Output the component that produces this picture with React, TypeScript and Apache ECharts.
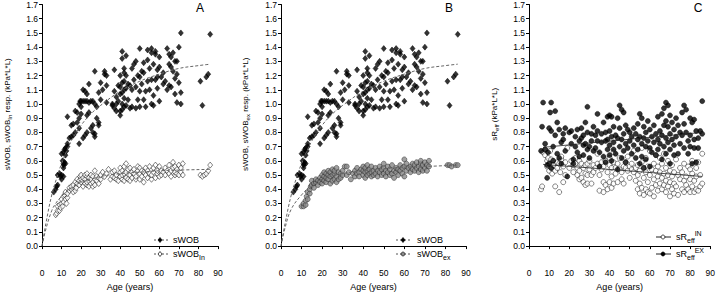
import React, { useEffect, useRef } from "react";
import * as echarts from "echarts";

const xTicks = [0, 10, 20, 30, 40, 50, 60, 70, 80, 90];
const panelLabels = ["A", "B", "C"];

const swobData: number[][] = [
  [6,0.38],[7,0.40],[7.5,0.42],[8,0.43],[8,0.50],[9,0.51],[9.5,0.49],[10,0.47],[10,0.50],[11,0.49],[11,0.57],[11,0.58],[11.5,0.59],[10.5,0.60],[10,0.65],[11,0.66],[11.5,0.68],[12,0.69],[12.5,0.67],[13,0.70],[12,0.64],[13,0.72],[12,0.58],[11,0.55],[13,0.91],[14,0.76],[15,0.77],[15,0.85],[16,0.86],[16,0.78],[17,0.80],[17,0.95],[18,0.94],[18,0.87],[19,0.83],[19,0.90],[19,0.72],[19,1.0],[19.5,1.02],[20,0.98],[20,0.93],[20,1.02],[21,1.02],[21,1.1],[22,1.02],[22,1.09],[22,0.78],[21,0.76],[23,1.07],[23,1.02],[23,0.92],[23,0.80],[24,1.14],[24,0.94],[24,1.01],[25,1.02],[25,0.83],[26,0.80],[26,0.85],[26,1.02],[27,1.23],[27,1.0],[27,0.79],[27,0.77],[28,0.98],[28,0.90],[29,0.85],[29,0.87],[29,1.08],[30,1.15],[30,1.03],[31,1.10],[32,1.23],[32,1.21],[33,1.20],[33,1.01],[33,1.13],[36,0.99],[36,1.0],[37,0.97],[37,1.09],[37,1.24],[38,1.0],[38,1.05],[38,0.95],[39,1.13],[39,1.02],[40,0.95],[40,0.92],[40,1.07],[40,1.12],[40,1.2],[41,1.15],[41,1.32],[41,1.37],[41,0.96],[41,1.0],[41,1.08],[42,1.25],[42,1.22],[42,1.16],[42,1.1],[42,1.04],[42,0.98],[43,1.11],[43,1.20],[43,1.34],[43,0.99],[44,1.14],[44,1.03],[45,1.13],[45,0.97],[46,1.1],[46,1.25],[46,0.98],[47,1.28],[47,1.17],[48,1.12],[48,0.97],[48,1.3],[49,1.03],[49,1.2],[50,1.39],[50,1.19],[50,1.09],[50,0.98],[51,1.14],[51,1.23],[52,1.29],[52,1.03],[52,1.22],[53,1.09],[53,0.98],[54,1.38],[54,1.31],[54,1.16],[55,1.25],[55,1.1],[56,1.39],[56,1.17],[56,1.0],[56,1.36],[57,1.28],[57,0.99],[57,1.06],[58,1.37],[58,1.35],[58,1.17],[59,1.24],[59,1.19],[59,1.11],[60,1.02],[60,1.26],[60,1.33],[61,1.19],[62,1.22],[62,1.14],[63,1.16],[64,1.39],[64,1.10],[65,1.28],[65,1.13],[65,1.35],[66,1.33],[66,1.26],[66,1.12],[67,1.36],[67,1.23],[68,1.30],[68,1.18],[68,1.07],[69,1.21],[69,1.01],[69,1.3],[70,1.4],[70,1.15],[71,1.00],[71,1.50],[71,1.08],[81,1.16],[82,0.99],[84,1.19],[85,1.21],[86,1.49]
];

const swobInData: number[][] = [
  [7,0.22],[7.5,0.23],[8,0.25],[8,0.28],[9,0.25],[9,0.29],[9.5,0.27],[10,0.30],[10,0.33],[10.5,0.28],[11,0.31],[11,0.35],[11.5,0.36],[12,0.38],[12,0.33],[12.5,0.30],[13,0.34],[13,0.37],[14,0.39],[14,0.41],[15,0.40],[15,0.42],[16,0.38],[16,0.43],[17,0.39],[17,0.45],[17.5,0.41],[18,0.44],[18,0.47],[19,0.46],[19,0.43],[19.5,0.49],[20,0.45],[20,0.47],[20,0.50],[21,0.42],[21,0.46],[21,0.48],[22,0.44],[22,0.47],[22,0.50],[23,0.43],[23,0.45],[23,0.49],[23,0.51],[24,0.42],[24,0.46],[24,0.48],[25,0.44],[25,0.47],[25,0.50],[26,0.42],[26,0.45],[26,0.49],[27,0.43],[27,0.47],[27,0.53],[28,0.46],[28,0.49],[29,0.44],[29,0.48],[30,0.47],[30,0.50],[31,0.52],[32,0.49],[33,0.51],[34,0.54],[35,0.47],[36,0.49],[36,0.52],[37,0.48],[37,0.53],[38,0.47],[38,0.50],[39,0.46],[40,0.49],[40,0.52],[40,0.55],[41,0.47],[41,0.50],[41,0.53],[42,0.46],[42,0.51],[42,0.56],[43,0.48],[43,0.52],[43,0.58],[44,0.47],[44,0.54],[45,0.46],[45,0.50],[45,0.55],[46,0.48],[46,0.52],[47,0.51],[47,0.54],[48,0.47],[48,0.49],[49,0.53],[49,0.56],[50,0.47],[50,0.51],[50,0.55],[51,0.49],[51,0.53],[52,0.45],[52,0.52],[53,0.50],[53,0.55],[54,0.48],[54,0.53],[55,0.51],[55,0.56],[56,0.47],[56,0.50],[57,0.52],[57,0.55],[58,0.48],[58,0.57],[59,0.51],[59,0.53],[60,0.49],[60,0.56],[61,0.50],[61,0.53],[62,0.52],[63,0.50],[63,0.55],[64,0.53],[65,0.51],[65,0.57],[66,0.49],[66,0.53],[67,0.55],[67,0.59],[68,0.50],[68,0.52],[68,0.56],[69,0.51],[69,0.54],[70,0.50],[70,0.57],[71,0.52],[71,0.55],[72,0.50],[72,0.58],[81,0.50],[82,0.49],[83,0.50],[84,0.51],[85,0.53],[86,0.57]
];

const swobExData: number[][] = [
  [10,0.28],[11,0.28],[11,0.30],[12,0.29],[12,0.32],[12.5,0.35],[13,0.33],[13,0.38],[14,0.37],[14,0.40],[14.5,0.42],[15,0.43],[15,0.46],[16,0.44],[16,0.41],[17,0.45],[17,0.47],[18,0.46],[18,0.43],[19,0.48],[19,0.45],[20,0.47],[20,0.50],[20,0.44],[21,0.46],[21,0.49],[21,0.52],[22,0.45],[22,0.48],[22,0.51],[23,0.47],[23,0.50],[23,0.53],[24,0.44],[24,0.49],[24,0.52],[25,0.46],[25,0.50],[25,0.54],[26,0.47],[26,0.51],[26,0.53],[27,0.45],[27,0.49],[27,0.55],[28,0.47],[28,0.52],[29,0.48],[29,0.51],[30,0.50],[30,0.53],[31,0.56],[32,0.50],[32,0.56],[33,0.52],[34,0.47],[35,0.51],[36,0.49],[36,0.53],[37,0.51],[37,0.55],[38,0.52],[38,0.49],[39,0.54],[40,0.50],[40,0.53],[40,0.56],[41,0.48],[41,0.52],[41,0.55],[42,0.50],[42,0.53],[42,0.57],[43,0.51],[43,0.54],[44,0.49],[44,0.52],[44,0.56],[45,0.50],[45,0.53],[46,0.51],[46,0.55],[47,0.49],[47,0.53],[48,0.52],[48,0.56],[49,0.50],[49,0.54],[50,0.51],[50,0.55],[50,0.58],[51,0.49],[51,0.53],[52,0.52],[52,0.56],[53,0.50],[53,0.54],[54,0.51],[54,0.57],[55,0.48],[55,0.53],[56,0.52],[56,0.55],[57,0.50],[57,0.54],[58,0.53],[58,0.57],[59,0.51],[59,0.55],[60,0.49],[60,0.56],[60,0.61],[61,0.53],[61,0.58],[62,0.55],[63,0.52],[63,0.56],[64,0.54],[64,0.58],[65,0.53],[65,0.57],[66,0.55],[66,0.59],[67,0.52],[67,0.56],[68,0.54],[68,0.58],[68,0.60],[69,0.53],[69,0.57],[70,0.55],[70,0.59],[71,0.53],[71,0.57],[72,0.56],[72,0.60],[81,0.57],[82,0.57],[83,0.56],[85,0.57],[86,0.57]
];

const sreffInData: number[][] = [
  [6,0.40],[6.5,0.42],[7,0.66],[8,0.68],[8,0.64],[9,0.60],[9,0.56],[9.5,0.62],[10,0.58],[10,0.53],[10.5,0.67],[11,0.61],[11,0.55],[11.5,0.51],[12,0.60],[12,0.57],[13,0.53],[13,0.42],[14,0.59],[14,0.55],[15,0.38],[15,0.58],[15.5,0.52],[16,0.61],[16,0.63],[17,0.56],[17,0.45],[18,0.59],[18,0.50],[19,0.69],[20,0.55],[21,0.60],[22,0.57],[22,0.52],[23,0.62],[23,0.58],[24,0.50],[24,0.55],[25,0.47],[25,0.53],[25,0.60],[26,0.58],[26,0.48],[27,0.45],[27,0.55],[28,0.51],[28,0.57],[28,0.43],[29,0.44],[29,0.50],[29,0.58],[30,0.60],[30,0.54],[31,0.50],[31,0.44],[32,0.57],[32,0.52],[33,0.55],[34,0.58],[34,0.65],[35,0.39],[35,0.50],[36,0.54],[36,0.59],[37,0.38],[37,0.45],[37,0.56],[38,0.43],[38,0.60],[39,0.40],[39,0.52],[40,0.45],[40,0.57],[40,0.62],[41,0.41],[41,0.49],[41,0.55],[42,0.44],[42,0.59],[42,0.66],[43,0.51],[43,0.55],[44,0.45],[44,0.58],[45,0.54],[45,0.62],[46,0.47],[46,0.52],[47,0.44],[47,0.56],[48,0.55],[48,0.59],[49,0.53],[49,0.63],[50,0.48],[50,0.56],[51,0.54],[51,0.58],[52,0.52],[52,0.67],[53,0.46],[53,0.55],[54,0.40],[54,0.50],[54,0.57],[55,0.37],[55,0.44],[55,0.53],[56,0.41],[56,0.59],[56,0.69],[57,0.36],[57,0.48],[57,0.55],[58,0.40],[58,0.52],[58,0.62],[59,0.38],[59,0.45],[59,0.56],[60,0.37],[60,0.50],[60,0.67],[61,0.41],[61,0.54],[62,0.35],[62,0.47],[62,0.58],[63,0.43],[63,0.53],[63,0.64],[64,0.39],[64,0.49],[64,0.56],[65,0.44],[65,0.52],[65,0.62],[66,0.40],[66,0.48],[66,0.58],[67,0.43],[67,0.51],[67,0.65],[68,0.38],[68,0.46],[68,0.55],[69,0.42],[69,0.50],[69,0.60],[70,0.35],[70,0.45],[70,0.53],[71,0.40],[71,0.49],[71,0.57],[72,0.37],[72,0.44],[72,0.52],[73,0.42],[73,0.61],[74,0.36],[74,0.50],[75,0.47],[75,0.55],[76,0.40],[76,0.52],[77,0.38],[77,0.46],[77,0.58],[78,0.43],[78,0.49],[79,0.40],[79,0.56],[80,0.38],[80,0.47],[80,0.54],[81,0.42],[81,0.51],[81,0.60],[82,0.38],[82,0.46],[83,0.40],[83,0.49],[83,0.55],[84,0.39],[84,0.59],[85,0.42],[85,0.50],[86,0.44],[86,0.65]
];

const sreffExData: number[][] = [
  [6,0.67],[6.5,0.84],[7,1.01],[8,0.72],[8,0.68],[9,0.48],[9,0.57],[9.5,0.66],[10,0.83],[10,0.58],[10.5,0.94],[11,1.01],[11,0.81],[11,0.55],[12,0.70],[12,0.60],[13,0.95],[13,0.78],[14,0.87],[14,0.65],[15,0.62],[15,0.82],[16,0.73],[16,0.58],[17,0.79],[17,0.75],[18,0.83],[18,0.67],[19,0.49],[20,0.80],[21,0.81],[21,0.72],[22,0.61],[22,0.58],[23,0.77],[23,0.70],[24,0.66],[24,0.82],[25,0.74],[25,0.63],[26,0.76],[26,0.83],[27,0.64],[27,0.71],[27,0.78],[28,0.72],[28,0.87],[29,0.98],[29,0.80],[29,0.68],[30,0.70],[30,0.62],[31,0.79],[31,0.74],[32,0.67],[32,0.84],[33,0.78],[33,0.69],[34,0.93],[34,0.81],[34,0.74],[35,0.56],[35,0.66],[36,0.73],[36,0.79],[37,0.87],[37,0.63],[38,0.80],[38,0.74],[38,0.59],[39,0.91],[39,0.75],[39,0.68],[40,0.92],[40,0.81],[40,0.71],[40,0.64],[41,0.91],[41,0.77],[41,0.60],[42,0.84],[42,0.73],[42,0.68],[43,0.78],[43,0.65],[44,0.90],[44,0.76],[44,0.54],[45,0.99],[45,0.83],[45,0.70],[46,0.96],[46,0.75],[46,0.62],[47,0.94],[47,0.79],[47,0.67],[48,0.85],[48,0.72],[48,0.59],[49,0.82],[49,0.69],[50,0.80],[50,0.74],[51,0.77],[51,0.65],[52,0.83],[52,0.71],[53,0.79],[53,0.62],[54,0.86],[54,0.75],[54,0.68],[55,0.93],[55,0.77],[55,0.58],[56,0.90],[56,0.72],[56,0.63],[57,0.84],[57,0.76],[57,0.55],[58,0.80],[58,0.70],[58,0.61],[59,0.88],[59,0.74],[60,0.82],[60,0.69],[60,0.56],[61,0.77],[61,0.66],[62,0.85],[62,0.73],[63,0.79],[63,0.64],[64,0.91],[64,0.75],[64,0.68],[65,0.81],[65,0.72],[66,0.93],[66,0.78],[66,0.61],[67,0.97],[67,0.85],[67,0.70],[68,1.01],[68,0.88],[68,0.76],[68,0.65],[69,0.99],[69,0.84],[69,0.73],[70,0.92],[70,0.79],[70,0.68],[70,0.58],[71,0.87],[71,0.75],[72,0.82],[72,0.71],[72,0.64],[73,0.90],[73,0.77],[74,0.65],[74,0.85],[75,0.80],[75,0.72],[76,0.94],[76,0.78],[77,0.99],[77,0.86],[77,0.69],[78,0.96],[78,0.80],[79,0.74],[79,0.65],[80,0.90],[80,0.78],[80,0.70],[81,0.87],[81,0.58],[82,0.89],[82,0.75],[82,0.69],[83,0.81],[83,0.59],[84,0.76],[84,0.69],[85,0.81],[86,1.02],[86,0.79]
];

const swobFit: number[][] = [[0,0],[2,0.16],[5,0.36],[8,0.50],[10,0.58],[15,0.74],[20,0.85],[25,0.93],[30,0.99],[40,1.09],[50,1.16],[60,1.21],[70,1.25],[80,1.27],[86,1.28]];
const swobInFit: number[][] = [[0,0],[2,0.12],[5,0.25],[7,0.30],[10,0.35],[15,0.41],[20,0.45],[25,0.47],[30,0.49],[40,0.51],[50,0.52],[60,0.53],[70,0.535],[86,0.54]];
const swobExFit: number[][] = [[0,0],[2,0.13],[5,0.26],[10,0.36],[15,0.43],[20,0.47],[30,0.51],[40,0.53],[50,0.545],[60,0.555],[70,0.56],[86,0.57]];
const sreffInFit: number[][] = [[7,0.575],[86,0.49]];
const sreffExFit: number[][] = [[7,0.695],[86,0.80]];

const FONT = "Liberation Sans, Arial, sans-serif";

const grids = [
  { left: 33, right: 500, top: 4, bottom: 44 },
  { left: 281, right: 252, top: 4, bottom: 44 },
  { left: 529, right: 4, top: 4, bottom: 44 },
];

const yNames = [
  "sWOB, sWOB{sub|In} resp. (kPa*L*L)",
  "sWOB, sWOB{sub|ex} resp. (kPa*L*L)",
  "sR{sub|eff} (kPa*L*L)",
];
const yNameGaps = [29, 30, 29];

const axisRich = {
  sub: { fontSize: 6, fontFamily: FONT, color: "#000", verticalAlign: "bottom", lineHeight: 7 },
  sup: { fontSize: 6, fontFamily: FONT, color: "#000", verticalAlign: "top", lineHeight: 7 },
};

function textWidth(text: string, size: number) {
  const t = new echarts.graphic.Text({ style: { text, fontSize: size, fontFamily: FONT } });
  return t.getBoundingRect().width;
}

function App() {
  const ref = useRef<HTMLDivElement>(null);
  useEffect(() => {
    if (!ref.current) return;
    const chart = echarts.init(ref.current, null, { renderer: "svg" });

    const xAxes = grids.map((_, i) => ({
      type: "value",
      gridIndex: i,
      min: xTicks[0],
      max: xTicks[xTicks.length - 1],
      interval: 10,
      offset: 16,
      name: "Age (years)",
      nameLocation: "middle",
      nameGap: 18,
      nameTextStyle: { fontFamily: FONT, fontSize: 9, color: "#000" },
      axisLine: { show: true, lineStyle: { color: "#000", width: 1 } },
      axisTick: { show: true, length: 3, lineStyle: { color: "#000" } },
      axisLabel: { fontFamily: FONT, fontSize: 8.5, color: "#000", margin: 6 },
      splitLine: { show: false },
    }));

    const yAxes = grids.map((_, i) => ({
      type: "value",
      gridIndex: i,
      min: 0,
      max: 1.7,
      interval: 0.1,
      name: yNames[i],
      nameLocation: "middle",
      nameRotate: 90,
      nameGap: yNameGaps[i],
      nameTextStyle: {
        fontFamily: FONT, fontSize: 8, color: "#000", lineHeight: 12, rich: axisRich,
        padding: [0, 0, 0, 22],
      },
      axisLine: { show: true, lineStyle: { color: "#000", width: 1 } },
      axisTick: { show: true, length: 3, lineStyle: { color: "#000" } },
      axisLabel: {
        fontFamily: FONT, fontSize: 8.5, color: "#000", margin: 4,
        formatter: (v: number) => v.toFixed(1),
      },
      splitLine: { show: false },
    }));

    const diamond = (fill: string) => ({
      type: "scatter", symbol: "diamond", symbolSize: [5, 6],
      itemStyle: { color: fill, borderColor: "#000", borderWidth: 0.6 },
    });

    const fitLine = (data: number[][], idx: number, dashed: boolean) => ({
      type: "line", xAxisIndex: idx, yAxisIndex: idx, data, showSymbol: false,
      smooth: dashed ? 0.4 : false, z: 5, silent: true,
      lineStyle: { color: dashed ? "#666" : "#222", width: dashed ? 1 : 0.8, type: dashed ? [3, 2] : "solid" },
    });

    const series: any[] = [
      { ...diamond("#000"), name: "sWOB A", xAxisIndex: 0, yAxisIndex: 0, data: swobData },
      { ...diamond("#fff"), name: "sWOBIn", xAxisIndex: 0, yAxisIndex: 0, data: swobInData },
      fitLine(swobFit, 0, true),
      fitLine(swobInFit, 0, true),
      { ...diamond("#000"), name: "sWOB B", xAxisIndex: 1, yAxisIndex: 1, data: swobData },
      {
        type: "scatter", name: "sWOBex", xAxisIndex: 1, yAxisIndex: 1, data: swobExData,
        symbol: "circle", symbolSize: 5,
        itemStyle: { color: "#8a8a8a", borderColor: "#222", borderWidth: 0.6 },
      },
      fitLine(swobFit, 1, true),
      fitLine(swobExFit, 1, true),
      {
        type: "scatter", name: "sReffIN", xAxisIndex: 2, yAxisIndex: 2, data: sreffInData,
        symbol: "circle", symbolSize: 5,
        itemStyle: { color: "#fff", borderColor: "#000", borderWidth: 0.6 },
      },
      {
        type: "scatter", name: "sReffEX", xAxisIndex: 2, yAxisIndex: 2, data: sreffExData,
        symbol: "circle", symbolSize: 5,
        itemStyle: { color: "#000", borderColor: "#000", borderWidth: 0.6 },
      },
      fitLine(sreffInFit, 2, false),
      fitLine(sreffExFit, 2, false),
    ];

    const txt = (x: number, y: number, text: string, size: number) => ({
      type: "text", x, y,
      style: { text, fill: "#000", fontFamily: FONT, fontSize: size, verticalAlign: "middle", align: "left" },
    });

    // legend label: main text, optional subscript, optional superscript
    const label = (x: number, y: number, main: string, sub?: string, sup?: string) => {
      const els: any[] = [txt(x, y, main, 9)];
      const w = textWidth(main, 9);
      if (sub) els.push(txt(x + w, y + 3, sub, 7));
      if (sup) {
        const ws = sub ? textWidth(sub, 7) : 0;
        els.push(txt(x + w + ws, y - 4, sup, 7));
      }
      return els;
    };

    const legendRow = (x1: number, x2: number, y: number, marker: any, main: string, dashed: boolean, sub?: string, sup?: string) => [
      {
        type: "line", shape: { x1, y1: y, x2, y2: y },
        style: { stroke: dashed ? "#555" : "#222", lineWidth: 1, lineDash: dashed ? [2, 2] : null },
      },
      marker,
      ...label(x2 + 5, y, main, sub, sup),
    ];
    const dia = (cx: number, cy: number, fill: string) => ({
      type: "polygon",
      shape: { points: [[cx, cy - 2.5], [cx + 2, cy], [cx, cy + 2.5], [cx - 2, cy]] },
      style: { fill, stroke: "#000", lineWidth: 0.7 },
    });
    const circ = (cx: number, cy: number, fill: string) => ({
      type: "circle", shape: { cx, cy, r: 2 },
      style: { fill, stroke: fill === "#8a8a8a" ? "#222" : "#000", lineWidth: 0.7 },
    });
    const panelText = (x: number, text: string) => ({
      type: "text", x, y: 8,
      style: { text, fill: "#000", fontFamily: FONT, fontSize: 12, align: "center", verticalAlign: "middle" },
    });

    const graphic: any[] = [
      ...legendRow(154, 168, 240, dia(160, 240, "#000"), "sWOB", true),
      ...legendRow(154, 168, 254, dia(160, 254, "#fff"), "sWOB", true, "In"),
      ...legendRow(396, 412, 240, dia(403, 240, "#000"), "sWOB", true),
      ...legendRow(396, 412, 254, circ(403, 254, "#8a8a8a"), "sWOB", true, "ex"),
      ...legendRow(656, 671, 237, circ(663, 237, "#fff"), "sR", false, "eff", "IN"),
      ...legendRow(656, 671, 254, circ(663, 254, "#000"), "sR", false, "eff", "EX"),
      panelText(200, panelLabels[0]),
      panelText(449, panelLabels[1]),
      panelText(698, panelLabels[2]),
    ];

    chart.setOption({
      animation: false,
      backgroundColor: "#fff",
      grid: grids,
      xAxis: xAxes,
      yAxis: yAxes,
      series,
      graphic,
    } as any);
    return () => chart.dispose();
  }, []);
  return (
    <div
      ref={ref}
      style={{ position: "fixed", left: 0, top: 0, width: 718, height: 296, background: "#fff" }}
    />
  );
}

export default App;
